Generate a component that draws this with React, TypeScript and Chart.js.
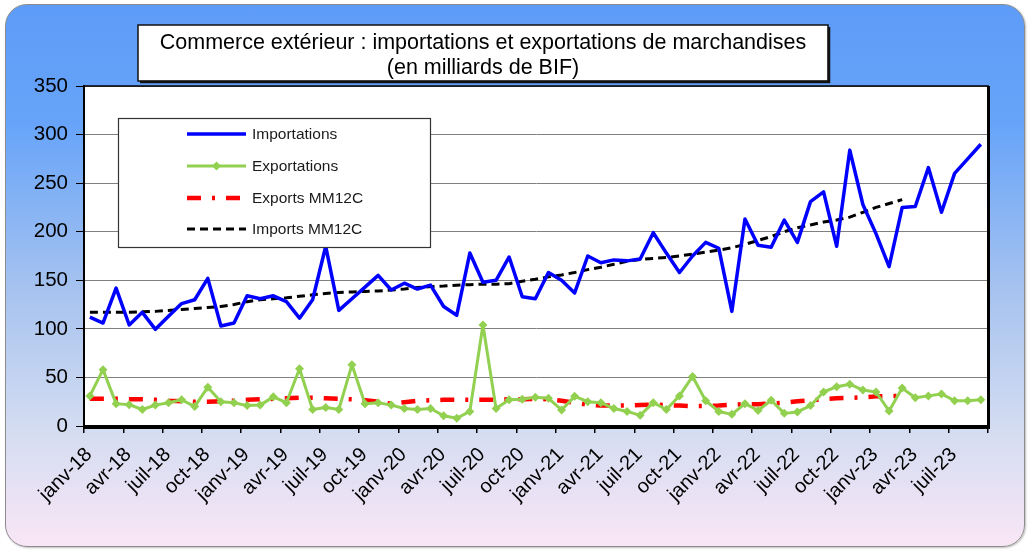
import React, { useEffect, useRef } from 'react';
import { Chart, registerables } from 'chart.js';

Chart.register(...registerables);

// ---------- data ----------
const QUARTER_LABELS = [
  'janv-18', 'avr-18', 'juil-18', 'oct-18',
  'janv-19', 'avr-19', 'juil-19', 'oct-19',
  'janv-20', 'avr-20', 'juil-20', 'oct-20',
  'janv-21', 'avr-21', 'juil-21', 'oct-21',
  'janv-22', 'avr-22', 'juil-22', 'oct-22',
  'janv-23', 'avr-23', 'juil-23',
];

// monthly values, janv-18 .. sept-23
const IMPORTATIONS = [
  112, 106, 142, 104, 117, 99.5, 113, 126, 130, 152, 103, 106,
  134, 131, 134, 128, 111, 130, 185, 119, 131, 143, 155, 140,
  147, 141, 145, 123, 114, 178, 148, 150, 174, 133, 131, 158,
  150, 137, 175, 168, 171, 170, 172, 199, 178, 158, 175, 189,
  183, 118, 213, 186, 184, 212, 189, 231, 241, 185, 284, 228,
  198, 164, 225, 226, 266, 220, 260, 275, 290,
];

const EXPORTATIONS = [
  31, 58, 23, 22, 17, 21.5, 24, 27, 20, 40, 25, 24,
  21, 21.5, 30, 24, 59, 17, 19, 17, 63, 23, 24, 21.5,
  18, 17, 18, 10.5, 8, 15, 104, 18, 27, 27.5, 29.5, 28.5,
  16.5, 30.5, 25, 24, 18, 15, 11, 24, 17, 31, 51, 26,
  15, 12, 23, 16, 26.5, 13, 14.5, 21, 35, 40.5, 43, 37,
  35, 15.5, 39, 29, 31, 33, 26, 26, 27,
];

// 12-month centred moving averages, janv-18 .. mars-23
const EXPORTS_MM12C = [
  28, 28, 28, 27.5, 27.5, 27, 26, 25.5, 25, 25, 25.5, 26,
  27, 27.5, 28, 28.5, 29, 29, 28.5, 28, 27.5, 26.5, 25, 23,
  24.5, 26, 26.5, 27, 27, 27, 27, 27, 27.5, 27.5, 28, 27.5,
  26, 24, 22, 21, 21, 21, 21.5, 22, 21.5, 21, 20.5, 20.5,
  21, 22, 22.5, 22.5, 23, 24, 25.5, 26.5, 27.5, 28.5, 29, 29.5,
  30.5, 31, 31,
];

const IMPORTS_MM12C = [
  117, 117, 117, 117, 117.5, 118, 119, 120, 121, 122, 123, 125,
  128, 130, 131, 132, 133.5, 135, 136.5, 137.5, 138, 138.5, 139, 140,
  141, 142.5, 143.5, 144, 145, 145.5, 146, 146, 146.5, 149, 151, 153.5,
  155.5, 158, 161, 163.5, 166.5, 169.5, 171.5, 172.5, 173.5, 175, 177, 179,
  181, 183.5, 187, 191, 195, 200, 204, 207, 210, 212, 215, 220,
  225, 229, 233,
];

const TITLE_LINES = [
  'Commerce extérieur : importations et exportations de marchandises',
  '(en milliards de BIF)',
];

// ---------- styling ----------
const FONT = 'Arial, "Liberation Sans", Helvetica, sans-serif';
const AXIS_MONTHS = 69; // janv-18 .. oct-23
const MID_MONTH = 0.45; // monthly observations sit mid-month on the date axis

const SERIES_STYLES = [
  { label: 'Importations', color: '#0000ff', width: 3.5, dash: [] as number[], marker: false },
  { label: 'Exportations', color: '#92d050', width: 3, dash: [] as number[], marker: true },
  { label: 'Exports MM12C', color: '#ff0000', width: 4.5, dash: [14, 11, 3, 11], marker: false },
  { label: 'Imports MM12C', color: '#000000', width: 3, dash: [8, 5], marker: false },
];

const toPoints = (arr: number[]) => arr.map((v, i) => ({ x: i + MID_MONTH, y: v }));

const decorPlugin = {
  id: 'decor',
  beforeDraw(chart: any) {
    const { ctx, chartArea: a } = chart;
    ctx.save();
    ctx.fillStyle = '#ffffff';
    ctx.fillRect(a.left, a.top, a.right - a.left, a.bottom - a.top);
    ctx.restore();
  },
  afterDatasetsDraw(chart: any) {
    const { ctx, chartArea: a } = chart;
    // legend box
    const bx = a.left + 34;
    const by = a.top + 32;
    const bw = 312;
    const bh = 129;
    ctx.save();
    ctx.fillStyle = '#ffffff';
    ctx.fillRect(bx, by, bw, bh);
    ctx.strokeStyle = '#333333';
    ctx.lineWidth = 1.2;
    ctx.strokeRect(bx + 0.5, by + 0.5, bw, bh);
    const rows = [16, 48, 80, 111];
    SERIES_STYLES.forEach((s, k) => {
      const y = by + rows[k];
      const x0 = bx + 69;
      const x1 = bx + 128;
      ctx.beginPath();
      ctx.setLineDash(s.dash);
      ctx.lineDashOffset = 0;
      ctx.strokeStyle = s.color;
      ctx.lineWidth = s.width;
      ctx.moveTo(x0, y);
      ctx.lineTo(x1, y);
      ctx.stroke();
      ctx.setLineDash([]);
      if (s.marker) {
        const cx = (x0 + x1) / 2;
        ctx.fillStyle = s.color;
        ctx.beginPath();
        ctx.moveTo(cx, y - 4.5);
        ctx.lineTo(cx + 4.5, y);
        ctx.lineTo(cx, y + 4.5);
        ctx.lineTo(cx - 4.5, y);
        ctx.closePath();
        ctx.fill();
      }
      ctx.fillStyle = '#1a1a1a';
      ctx.font = `15.5px ${FONT}`;
      ctx.textAlign = 'left';
      ctx.textBaseline = 'middle';
      ctx.fillText(s.label, bx + 134, y + 1);
    });
    ctx.restore();
  },
  afterDraw(chart: any) {
    const { ctx, chartArea: a } = chart;
    ctx.save();
    // plot frame
    ctx.strokeStyle = '#000000';
    ctx.lineWidth = 1.5;
    ctx.strokeRect(a.left, a.top, a.right - a.left, a.bottom - a.top);
    ctx.lineWidth = 3;
    ctx.beginPath();
    ctx.moveTo(a.right + 0.5, a.top);
    ctx.lineTo(a.right + 0.5, a.bottom + 1.5);
    ctx.lineTo(a.left, a.bottom + 1.5);
    ctx.stroke();
    // title box
    const tx = 138;
    const ty = 25;
    const tw = 690;
    const th = 56;
    ctx.fillStyle = '#ffffff';
    ctx.fillRect(tx, ty, tw, th);
    ctx.lineWidth = 1.5;
    ctx.strokeStyle = '#111111';
    ctx.strokeRect(tx, ty, tw, th);
    ctx.lineWidth = 2.5;
    ctx.beginPath();
    ctx.moveTo(tx + tw + 1, ty + 2);
    ctx.lineTo(tx + tw + 1, ty + th + 1);
    ctx.lineTo(tx + 2, ty + th + 1);
    ctx.stroke();
    ctx.fillStyle = '#000000';
    ctx.font = `21.5px ${FONT}`;
    ctx.textAlign = 'center';
    ctx.textBaseline = 'middle';
    ctx.fillText(TITLE_LINES[0], tx + tw / 2, ty + 18);
    ctx.fillText(TITLE_LINES[1], tx + tw / 2, ty + 43);
    ctx.restore();
  },
};

export default function App() {
  const canvasRef = useRef<HTMLCanvasElement | null>(null);

  useEffect(() => {
    const canvas = canvasRef.current;
    if (!canvas) return;
    const datasets = [IMPORTATIONS, EXPORTATIONS, EXPORTS_MM12C, IMPORTS_MM12C].map((arr, k) => {
      const s = SERIES_STYLES[k];
      return {
        label: s.label,
        data: toPoints(arr),
        borderColor: s.color,
        backgroundColor: s.color,
        borderWidth: s.width,
        borderDash: s.dash,
        borderCapStyle: 'butt' as const,
        borderJoinStyle: 'round' as const,
        pointRadius: s.marker ? 4.5 : 0,
        pointHoverRadius: s.marker ? 4.5 : 0,
        pointStyle: 'rectRot' as const,
        pointBackgroundColor: s.color,
        pointBorderColor: s.color,
        pointBorderWidth: 0,
        tension: 0,
        fill: false,
      };
    });

    const chart = new Chart(canvas, {
      type: 'line',
      data: { datasets },
      options: {
        animation: false,
        responsive: false,
        devicePixelRatio: 1,
        layout: { padding: { top: 86, right: 42, left: 0, bottom: 0 } },
        plugins: {
          legend: { display: false },
          title: { display: false },
          tooltip: { enabled: false },
        },
        scales: {
          x: {
            type: 'linear',
            min: 0,
            max: AXIS_MONTHS,
            afterFit: (s: any) => { s.height = 126; },
            grid: {
              drawOnChartArea: false,
              drawTicks: true,
              tickLength: 7,
              color: '#000000',
              lineWidth: 1.5,
            },
            border: { display: true, color: '#000000', width: 2 },
            ticks: {
              stepSize: 3,
              autoSkip: false,
              minRotation: 45,
              maxRotation: 45,
              padding: 10,
              labelOffset: 5,
              color: '#000000',
              font: { family: FONT, size: 20 },
              callback: (v: any) => {
                const k = Number(v) / 3;
                return Number.isInteger(k) && k < QUARTER_LABELS.length ? QUARTER_LABELS[k] : '';
              },
            },
          },
          y: {
            min: 0,
            max: 350,
            afterFit: (s: any) => { s.width = 84; },
            grid: {
              color: '#808080',
              lineWidth: 1,
              tickLength: 8,
              tickColor: '#000000',
            },
            border: { display: true, color: '#000000', width: 2 },
            ticks: {
              stepSize: 50,
              padding: 8,
              color: '#000000',
              font: { family: FONT, size: 20.5 },
            },
          },
        },
      },
      plugins: [decorPlugin],
    } as any);

    return () => chart.destroy();
  }, []);

  return (
    <div style={{ position: 'fixed', left: 0, top: 0, width: 1030, height: 552, background: '#ffffff', overflow: 'hidden' }}>
      <div
        style={{
          position: 'absolute',
          left: 5,
          top: 4,
          width: 1020,
          height: 543,
          borderRadius: 22,
          border: '1px solid #8c8c8c',
          boxSizing: 'border-box',
          background: 'linear-gradient(to bottom, #5d9cf8 0%, #67a4f9 22%, #a5c2ef 52%, #d3dcf1 78%, #f9e6f6 100%)',
          boxShadow: '1px 1px 2px rgba(0,0,0,0.25)',
        }}
      />
      <canvas ref={canvasRef} width={1030} height={552} style={{ position: 'absolute', left: 0, top: 0, display: 'block' }} />
    </div>
  );
}
